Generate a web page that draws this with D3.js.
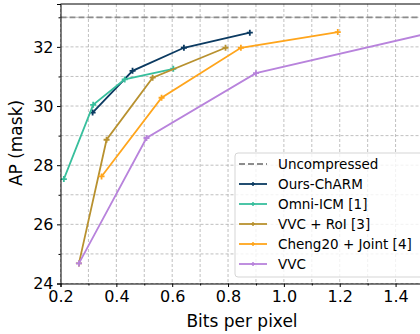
<!DOCTYPE html>
<html>
<head>
<meta charset="utf-8">
<script src="https://cdn.jsdelivr.net/npm/d3@7"></script>
<style>
  body { margin: 0; background: #fff; }
  svg { font-family: "DejaVu Sans", sans-serif; }
</style>
</head>
<body>
<div id="chart"></div>
<script>
// data
const seriesNames = ['Ours-ChARM', 'Omni-ICM [1]', 'VVC + RoI [3]', 'Cheng20 + Joint [4]', 'VVC'];
const seriesColors = ['#0b3a61', '#38bf9d', '#b8912f', '#ffa51c', '#b883dc'];
const bppOurs = [0.315, 0.458, 0.642, 0.878];
const apOurs = [29.78, 31.19, 31.97, 32.48];
const bppOmni = [0.212, 0.317, 0.43, 0.604];
const apOmni = [27.53, 30.04, 30.9, 31.26];
const bppRoi = [0.266, 0.365, 0.53, 0.791];
const apRoi = [24.68, 28.86, 30.96, 31.97];
const bppCheng = [0.347, 0.562, 0.846, 1.193];
const apCheng = [27.62, 30.28, 31.97, 32.5];
const bppVvc = [0.266, 0.508, 0.9, 1.5];
const apVvc = [24.68, 28.92, 31.11, 32.42];
const uncompressed = 33.0;
const xTicks = [0.2, 0.4, 0.6, 0.8, 1.0, 1.2, 1.4];
const yTicks = [24, 26, 28, 30, 32];

const series = [
  {bpp: bppOurs, ap: apOurs},
  {bpp: bppOmni, ap: apOmni},
  {bpp: bppRoi, ap: apRoi},
  {bpp: bppCheng, ap: apCheng},
  {bpp: bppVvc, ap: apVvc}
].map((s, i) => ({name: seriesNames[i], color: seriesColors[i],
  points: s.bpp.map((b, j) => ({x: b, y: s.ap[j]}))}));

const W = 420, H = 334;
const margin = {top: 4, right: -3.5, bottom: 50.5, left: 60.5};
const width = W - margin.left - margin.right;
const height = H - margin.top - margin.bottom;

const x = d3.scaleLinear().domain([0.2, 1.5]).range([0, width]);
const y = d3.scaleLinear().domain([24, 33.45]).range([height, 0]);

const svg = d3.select('#chart').append('svg')
  .attr('width', W).attr('height', H)
  .append('g')
  .attr('transform', `translate(${margin.left},${margin.top})`);

svg.append('clipPath').attr('id', 'clip')
  .append('rect').attr('width', width).attr('height', height);

// grid (major + minor)
const grid = svg.append('g').attr('stroke', '#b0b0b0').attr('stroke-width', 0.8)
  .attr('stroke-dasharray', '3,2');
d3.range(0.2, 1.51, 0.1).forEach(v => {
  grid.append('line').attr('x1', x(v)).attr('x2', x(v)).attr('y1', 0).attr('y2', height);
});
d3.range(24, 33.5, 1).forEach(v => {
  grid.append('line').attr('y1', y(v)).attr('y2', y(v)).attr('x1', 0).attr('x2', width);
});

// uncompressed reference
svg.append('line')
  .attr('x1', 0).attr('x2', width)
  .attr('y1', y(uncompressed)).attr('y2', y(uncompressed))
  .attr('stroke', '#8c8c8c').attr('stroke-width', 1.8).attr('stroke-dasharray', '6,3');

const line = d3.line().x(d => x(d.x)).y(d => y(d.y));
const plus = 'M-3,0H3M0,-3V3';

const plot = svg.append('g').attr('clip-path', 'url(#clip)');
series.forEach(s => {
  plot.append('path').datum(s.points)
    .attr('d', line).attr('fill', 'none')
    .attr('stroke', s.color).attr('stroke-width', 1.8);
  plot.selectAll(null).data(s.points).enter().append('path')
    .attr('transform', d => `translate(${x(d.x)},${y(d.y)})`)
    .attr('d', plus).attr('stroke', s.color).attr('stroke-width', 1.8);
});

// axes
svg.append('g').attr('transform', `translate(0,${height})`)
  .call(d3.axisBottom(x).tickValues(xTicks).tickFormat(d3.format('.1f')).tickSize(3.5).tickPadding(3.5));
svg.append('g').attr('transform', `translate(0,${height})`)
  .call(d3.axisBottom(x).tickValues(d3.range(0.3, 1.5, 0.2)).tickFormat('').tickSize(2))
  .select('.domain').remove();
svg.append('g')
  .call(d3.axisLeft(y).tickValues(yTicks).tickFormat(d3.format('d')).tickSize(3.5).tickPadding(3.5));
svg.append('g')
  .call(d3.axisLeft(y).tickValues([25, 27, 29, 31, 33]).tickFormat('').tickSize(2))
  .select('.domain').remove();
svg.selectAll('.tick text').attr('font-size', 16).attr('fill', '#000')
  .attr('font-family', '"DejaVu Sans", sans-serif');
svg.selectAll('.domain').attr('stroke', '#000').attr('stroke-width', 1);
svg.selectAll('.tick line').attr('stroke', '#000');

// top spine
svg.append('line').attr('x1', 0).attr('x2', width).attr('y1', 0).attr('y2', 0)
  .attr('stroke', '#000').attr('stroke-width', 1);

// labels
svg.append('text').attr('x', x(0.85)).attr('y', height + 43)
  .attr('text-anchor', 'middle').attr('font-size', 17).text('Bits per pixel');
svg.append('text').attr('transform', `translate(${-39},${y(28.75)}) rotate(-90)`)
  .attr('text-anchor', 'middle').attr('font-size', 17).text('AP (mask)');

// legend
const lg = svg.append('g').attr('transform', `translate(${235 - margin.left},${153 - margin.top})`);
lg.append('rect').attr('width', 195).attr('height', 124).attr('rx', 3)
  .attr('fill', '#fff').attr('fill-opacity', 0.8).attr('stroke', '#d5d5d5');
const entries = [{name: 'Uncompressed', color: '#8c8c8c', dash: true}]
  .concat(series.map(s => ({name: s.name, color: s.color})));
entries.forEach((e, i) => {
  const g = lg.append('g').attr('transform', `translate(0,${11 + i * 20})`);
  g.append('line').attr('x1', 4).attr('x2', 32).attr('stroke', e.color).attr('stroke-width', 1.8)
    .attr('stroke-dasharray', e.dash ? '6,3' : null);
  if (!e.dash) g.append('path').attr('transform', 'translate(18,0)').attr('d', 'M-2,0H2M0,-2V2')
    .attr('stroke', e.color).attr('stroke-width', 1.5);
  g.append('text').attr('x', 43).attr('dy', '0.35em').attr('font-size', 13.5).text(e.name);
});
</script>
</body>
</html>
